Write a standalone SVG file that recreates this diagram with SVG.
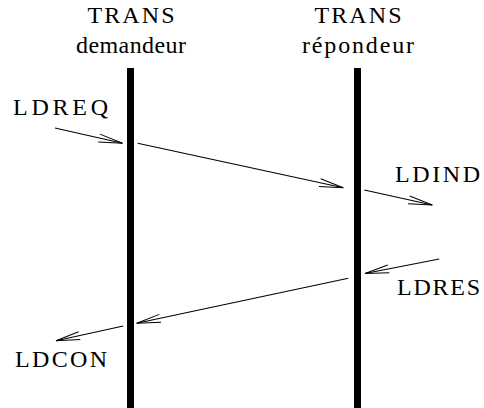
<svg xmlns="http://www.w3.org/2000/svg" width="484" height="408" viewBox="0 0 484 408">
<defs>
<marker id="ah" markerUnits="userSpaceOnUse" markerWidth="30" markerHeight="12" viewBox="-26 -6 28 12" refX="0" refY="0" orient="auto">
<path d="M-24,-4 L0,0 L-24,4" fill="none" stroke="#000" stroke-width="1"/>
</marker>
</defs>
<g id="demandeur">
<rect x="127" y="68" width="7" height="340" fill="#000"/>
<text x="131" y="23" font-family="Liberation Serif" font-size="24" text-anchor="middle" textLength="87">TRANS</text>
<text x="131" y="53" font-family="Liberation Serif" font-size="24" text-anchor="middle" textLength="110">demandeur</text>
</g>
<g id="repondeur">
<rect x="354" y="68" width="7" height="340" fill="#000"/>
<text x="358" y="23" font-family="Liberation Serif" font-size="24" text-anchor="middle" textLength="87">TRANS</text>
<text x="358" y="53" font-family="Liberation Serif" font-size="24" text-anchor="middle" textLength="112">r&#233;pondeur</text>
</g>
<g id="labels">
<text x="13" y="115" font-family="Liberation Serif" font-size="24" textLength="95">LDREQ</text>
<text x="395" y="182" font-family="Liberation Serif" font-size="24" textLength="85">LDIND</text>
<text x="397" y="295" font-family="Liberation Serif" font-size="24" textLength="83">LDRES</text>
<text x="15" y="367" font-family="Liberation Serif" font-size="24" textLength="92">LDCON</text>
</g>
<g id="connectors" stroke="#000" stroke-width="1.1" fill="none" marker-end="url(#ah)">
<line x1="55" y1="128" x2="122.5" y2="143.3"/>
<line x1="137.7" y1="143.3" x2="343.3" y2="187.7"/>
<line x1="364.3" y1="190" x2="432.3" y2="205"/>
<line x1="439.3" y1="259" x2="365" y2="273.5"/>
<line x1="348.3" y1="278.3" x2="136.7" y2="323.3"/>
<line x1="123.3" y1="326" x2="56" y2="340.7"/>
</g>
</svg>
